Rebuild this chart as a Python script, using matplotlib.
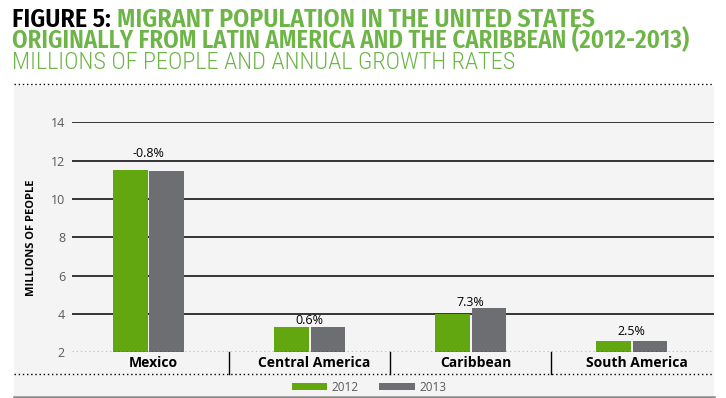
import matplotlib
matplotlib.use("Agg")
import matplotlib.pyplot as plt
import matplotlib.transforms as mtransforms
from matplotlib.patches import Rectangle
from matplotlib.lines import Line2D
import numpy as np

categories = ["Mexico", "Central America", "Caribbean", "South America"]
years = ["2012", "2013"]
values_2012 = [11.50, 3.30, 4.00, 2.57]
values_2013 = [11.46, 3.32, 4.30, 2.60]
growth_labels = ["-0.8%", "0.6%", "7.3%", "2.5%"]
yticks = [2, 4, 6, 8, 10, 12, 14]

GREEN = "#62a70f"
GRAY = "#6d6e71"
TITLE_GREEN = "#6cb546"
PANEL = "#f4f4f4"
TICKGRAY = "#5a5a5c"

W, H = 726, 398
fig = plt.figure(figsize=(W / 100, H / 100), dpi=100)
fig.patch.set_facecolor("white")

def fx(px):
    return px / W

def fy(py):
    return 1 - py / H

cond = ["Fira Sans Condensed", "Roboto Condensed", "DejaVu Sans"]
sub = ["Roboto Condensed", "DejaVu Sans"]
body = ["Open Sans", "DejaVu Sans"]

# panel background
fig.patches.append(Rectangle((fx(14), fy(396)), fx(714) - fx(14), fy(86) - fy(396),
                             transform=fig.transFigure, facecolor=PANEL, edgecolor="none", zorder=-5))
# top dotted line
fig.add_artist(Line2D([fx(14), fx(714)], [fy(84), fy(84)], transform=fig.transFigure,
                      color="black", lw=1, ls=(0, (1, 2)), zorder=2))
# lower dotted line
fig.add_artist(Line2D([fx(14), fx(714)], [fy(374), fy(374)], transform=fig.transFigure,
                      color="black", lw=1, ls=(0, (1, 2)), zorder=2))
# bottom gray line
fig.add_artist(Line2D([fx(14), fx(714)], [fy(396.5), fy(396.5)], transform=fig.transFigure,
                      color="#8a8a8a", lw=1.8, zorder=2))

# Titles
renderer = fig.canvas.get_renderer()

def fit_text(x, y, s, target_w, size, **kw):
    t = fig.text(x, y, s, fontsize=size, **kw)
    w = t.get_window_extent(renderer).width
    t.set_fontsize(size * target_w / w)
    return t

t1a = fig.text(fx(12), fy(27), "FIGURE 5:", fontsize=17, family=cond, weight="semibold",
               color="black", va="baseline")
t1b = fig.text(0, fy(27), "MIGRANT POPULATION IN THE UNITED STATES", fontsize=17, family=cond,
               weight="semibold", color=TITLE_GREEN, va="baseline")
gap = 6
wa = t1a.get_window_extent(renderer).width
wb = t1b.get_window_extent(renderer).width
scale = (585 - gap) / (wa + wb)
t1a.set_fontsize(17 * scale)
t1b.set_fontsize(17 * scale)
wa = t1a.get_window_extent(renderer).width
t1b.set_x(fx(12 + wa + gap))

fit_text(fx(12), fy(48), "ORIGINALLY FROM LATIN AMERICA AND THE CARIBBEAN (2012-2013)", 678, 17,
         family=cond, weight="semibold", color=TITLE_GREEN, va="baseline")
fit_text(fx(12), fy(69), "MILLIONS OF PEOPLE AND ANNUAL GROWTH RATES", 506, 15,
         family=sub, weight="light", color=TITLE_GREEN, va="baseline")

# Axes
ax = fig.add_axes([fx(72), fy(352.3), fx(714) - fx(72), fy(122.3) - fy(352.3)])
ax.set_zorder(1)
ax.set_facecolor("none")
x = np.arange(len(categories))
bw = 0.215
off = 0.113
b1 = ax.bar(x - off, values_2012, bw, color=GREEN, label=years[0], zorder=3)
b2 = ax.bar(x + off, values_2013, bw, color=GRAY, label=years[1], zorder=3)

ax.set_xlim(-0.475, 3.51)
ax.set_ylim(2, 14)
ax.set_yticks(yticks)
ax.set_yticklabels([str(v) for v in yticks], family=body, fontsize=9, color=TICKGRAY)
for v in yticks[1:]:
    ax.axhline(v, color="black", lw=1.1, zorder=1)
ax.axhline(2, color="black", lw=1, ls=(0, (1, 2)), zorder=4)
for s in ax.spines.values():
    s.set_visible(False)
ax.tick_params(axis="y", length=0, pad=5)
ax.tick_params(axis="x", length=0, pad=3)
ax.set_xticks(x + 0.03)
ax.set_xticklabels(categories, family=body, fontsize=10, weight="bold", color="black")
ax.set_ylabel("MILLIONS OF PEOPLE", family=body, fontsize=8, weight="bold", color="black", labelpad=10)

# growth labels
label_offsets = [12.2, 4.6, 4.4, 6.7]
for i, lab in enumerate(growth_labels):
    top = max(values_2012[i], values_2013[i])
    ax.annotate(lab, (x[i], top), xytext=(0, label_offsets[i]), textcoords="offset points",
                ha="center", va="center", family=body, fontsize=9, color="black")

# separators
trans = mtransforms.blended_transform_factory(ax.transData, fig.transFigure)
for s in [0.5, 1.5, 2.5]:
    fig.add_artist(Line2D([s, s], [fy(352.3), fy(374)], transform=trans, color="black", lw=1, zorder=2))

fig.legend(handles=[b1, b2], labels=years, loc="center", bbox_to_anchor=(fx(369), fy(387.5)),
           ncol=2, frameon=False, handlelength=3.0, handleheight=0.55, handletextpad=0.4,
           columnspacing=1.7, prop={"family": body, "size": 8.5}, labelcolor=TICKGRAY)

fig.savefig("out.png", dpi=100, facecolor="white")
